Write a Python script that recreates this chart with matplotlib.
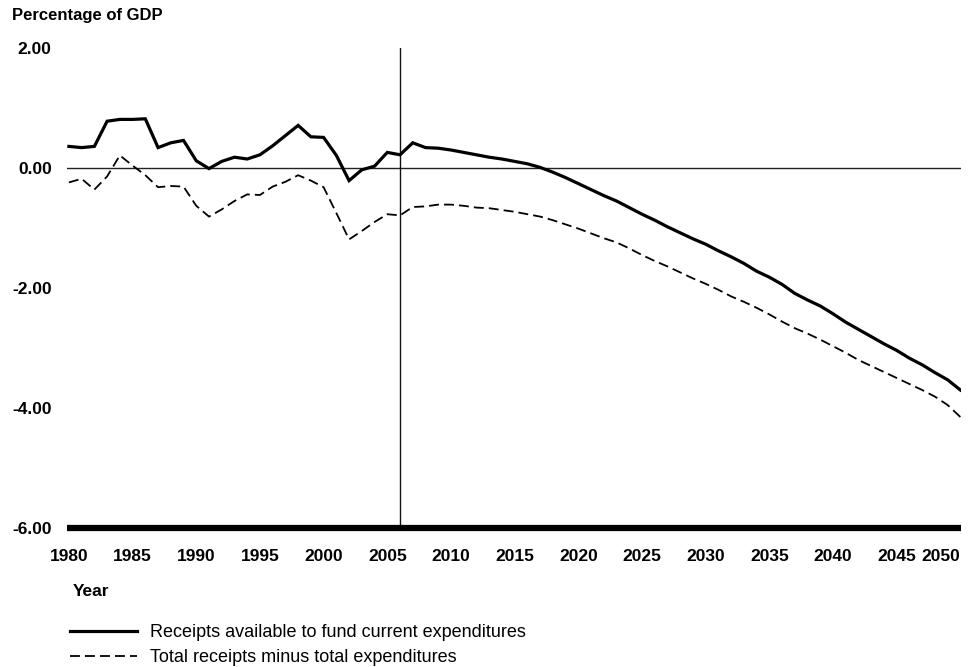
import matplotlib
matplotlib.use("Agg")
import matplotlib.pyplot as plt
import numpy as np

years = list(range(1980, 2051))

receipts_available = [
    0.36, 0.34, 0.36, 0.78, 0.81, 0.81, 0.82, 0.34, 0.42, 0.46,
    0.12, -0.01, 0.11, 0.18, 0.15, 0.22, 0.37, 0.54, 0.71, 0.52,
    0.51, 0.21, -0.21, -0.03, 0.03, 0.26, 0.22, 0.42, 0.34, 0.33,
    0.30, 0.26, 0.22, 0.18, 0.15, 0.11, 0.07, 0.01, -0.07, -0.16,
    -0.26, -0.36, -0.46, -0.55, -0.66, -0.77, -0.87, -0.98, -1.08, -1.18,
    -1.27, -1.38, -1.48, -1.59, -1.72, -1.82, -1.94, -2.09, -2.20, -2.30,
    -2.43, -2.57, -2.69, -2.81, -2.93, -3.04, -3.17, -3.28, -3.41, -3.53,
    -3.70,
]

total_balance = [
    -0.24, -0.18, -0.36, -0.14, 0.21, 0.04, -0.12, -0.32, -0.30, -0.31,
    -0.63, -0.81, -0.69, -0.55, -0.44, -0.45, -0.31, -0.23, -0.12, -0.21,
    -0.32, -0.75, -1.19, -1.05, -0.90, -0.77, -0.79, -0.65, -0.64, -0.61,
    -0.61, -0.63, -0.66, -0.67, -0.70, -0.73, -0.77, -0.81, -0.87, -0.94,
    -1.01, -1.09, -1.17, -1.24, -1.34, -1.45, -1.55, -1.64, -1.74, -1.84,
    -1.93, -2.03, -2.14, -2.23, -2.33, -2.44, -2.56, -2.67, -2.76, -2.86,
    -2.97, -3.08, -3.20, -3.30, -3.40, -3.50, -3.60, -3.70, -3.81, -3.95,
    -4.15,
]

x_tick_years = list(range(1980, 2051, 5))
y_ticks = [2.0, 0.0, -2.0, -4.0, -6.0]
projection_start = 2006

series_labels = ["Receipts available to fund current expenditures",
                 "Total receipts minus total expenditures"]

plt.rcParams['font.family'] = ['Liberation Sans', 'DejaVu Sans']

W, H = 978, 667
fig = plt.figure(figsize=(W / 100, H / 100), dpi=100)
ax = fig.add_axes([67 / W, 1 - 528 / H, (961 - 67) / W, (528 - 48) / H])

ax.set_xlim(1979.85, 2050.05)
ax.set_ylim(-6.0, 2.0)

ax.axhline(0, color='#222222', lw=1.0, zorder=1)
ax.axvline(projection_start, color='#111111', lw=1.0, zorder=1)

l1, = ax.plot(years, receipts_available, color='black', lw=2.3,
              solid_joinstyle='miter', zorder=3)
l2, = ax.plot(years, total_balance, color='black', lw=1.3,
              dashes=(5.5, 2.8), zorder=3)

for s in ['top', 'left', 'right']:
    ax.spines[s].set_visible(False)
ax.spines['bottom'].set_linewidth(4.5)
ax.spines['bottom'].set_color('black')
ax.spines['bottom'].set_capstyle('butt')

ax.set_yticks(y_ticks)
ax.set_yticklabels([f"{v:.2f}" for v in y_ticks], fontsize=12.5,
                   fontweight='bold')
ax.set_xticks(x_tick_years)
ax.set_xticklabels([str(y) for y in x_tick_years], fontsize=12.5,
                   fontweight='bold')
ax.tick_params(axis='both', length=0)
ax.tick_params(axis='y', pad=11)
ax.tick_params(axis='x', pad=15)
ax.get_xticklabels()[-1].set_horizontalalignment('right')

fig.text(12 / W, 1 - 20 / H, "Percentage of GDP", fontsize=12,
         fontweight='bold', ha='left', va='baseline')
fig.text(73 / W, 1 - 596 / H, "Year", fontsize=12.5, fontweight='bold',
         ha='left', va='baseline')

leg = fig.legend([l1, l2], series_labels, loc='upper left',
                 bbox_to_anchor=(70 / W, 1 - 624 / H), frameon=False,
                 fontsize=13, handlelength=3.7, handletextpad=0.72,
                 labelspacing=0.45, borderpad=0, borderaxespad=0)

fig.savefig("out.png", dpi=100)
